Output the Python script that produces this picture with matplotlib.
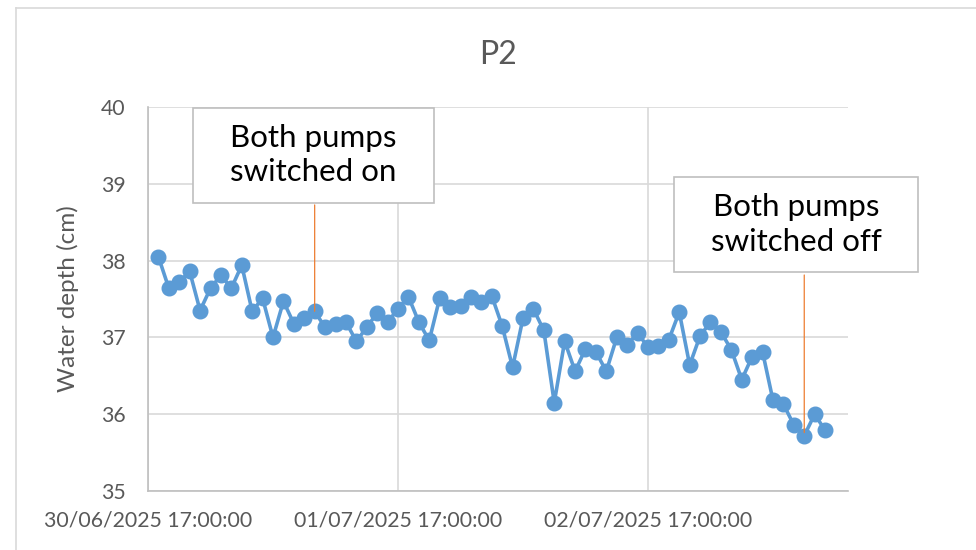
import numpy as np
import pandas as pd
import matplotlib
matplotlib.use("Agg")
import matplotlib.pyplot as plt
import matplotlib.dates as mdates
from matplotlib.patches import Rectangle
from matplotlib.lines import Line2D


#%%

# Hourly readings, P2
start_time = "2025-06-30 18:00:00"
depth_cm = [38.05, 37.64, 37.72, 37.86, 37.35, 37.64, 37.81, 37.64, 37.94, 37.34,
            37.51, 37.00, 37.47, 37.18, 37.25, 37.34, 37.13, 37.18, 37.20, 36.95,
            37.13, 37.32, 37.20, 37.37, 37.53, 37.20, 36.96, 37.51, 37.39, 37.41,
            37.53, 37.46, 37.54, 37.15, 36.61, 37.25, 37.37, 37.09, 36.15, 36.95,
            36.56, 36.85, 36.81, 36.56, 37.00, 36.90, 37.06, 36.87, 36.89, 36.97,
            37.33, 36.64, 37.02, 37.20, 37.07, 36.84, 36.45, 36.75, 36.81, 36.18,
            36.13, 35.86, 35.72, 36.00, 35.79]

times = pd.date_range(start_time, periods=len(depth_cm), freq="h")

tick_times = pd.to_datetime(["2025-06-30 17:00:00", "2025-07-01 17:00:00", "2025-07-02 17:00:00"])
y_ticks = [35, 36, 37, 38, 39, 40]

# pumps on / off markers
pumps_on_idx = 15
pumps_off_idx = 62
note_on = "Both pumps\nswitched on"
note_off = "Both pumps\nswitched off"


#%%

blue = "#5B9BD5"
orange = "#ED7D31"
grey_txt = "#595959"
grid_col = "#D9D9D9"

plt.rcParams['font.family'] = ['Lato', 'DejaVu Sans']

fig = plt.figure(figsize=(9.76, 5.5), dpi=100)
ax = fig.add_axes([148/976, 1 - 491/550, 700/976, 384/550])

ax.plot(times, depth_cm, color=blue, lw=2.6, marker="o", ms=10.5, zorder=3)

ax.set_ylim(35, 40)
ax.set_yticks(y_ticks)
x0 = tick_times[0]
ax.set_xlim(x0, x0 + pd.Timedelta(hours=67.2))
ax.set_xticks(tick_times)
ax.xaxis.set_major_formatter(mdates.DateFormatter("%d/%m/%Y %H:%M:%S"))

ax.grid(True, color=grid_col, lw=1.2)
ax.set_axisbelow(True)
for s in ["top", "right"]:
    ax.spines[s].set_visible(False)
for s in ["left", "bottom"]:
    ax.spines[s].set_color("#BFBFBF")
    ax.spines[s].set_linewidth(1.2)
ax.tick_params(length=0, labelsize=15.3, labelcolor=grey_txt)
ax.tick_params(axis="y", pad=16)
ax.tick_params(axis="x", pad=14)

ax.set_ylabel("Water depth (cm)", fontsize=17.5, color=grey_txt, labelpad=16)
ax.set_title("P2", fontsize=23, color=grey_txt, pad=31)


#%%

# annotation leader lines
ax.annotate("", xy=(times[pumps_on_idx], depth_cm[pumps_on_idx]),
            xytext=(times[pumps_on_idx], 0.745), textcoords=("data", "axes fraction"),
            arrowprops=dict(arrowstyle="-", color=orange, lw=0.9, shrinkA=0, shrinkB=0))
ax.annotate("", xy=(times[pumps_off_idx], depth_cm[pumps_off_idx] + 0.04),
            xytext=(times[pumps_off_idx], 0.5625), textcoords=("data", "axes fraction"),
            arrowprops=dict(arrowstyle="-", color=orange, lw=0.9, shrinkA=0, shrinkB=0))

# text boxes
def note_box(x0, y0, w, h, txt):
    fig.patches.append(Rectangle((x0, y0), w, h, transform=fig.transFigure,
                                 facecolor="white", edgecolor="#BFBFBF", lw=1.2, zorder=5))
    fig.text(x0 + w/2, y0 + h/2, txt, ha="center", va="center", fontsize=22.5,
             color="black", linespacing=1.3, zorder=6)

note_box(193/976, 1 - 202.5/550, 241/976, 95/550, note_on)
note_box(674/976, 1 - 272/550, 244/976, 95/550, note_off)

# chart border
fig.add_artist(Line2D([15.5/976, 15.5/976], [0, 1 - 7.5/550], color=grid_col, lw=1.2))
fig.add_artist(Line2D([15.5/976, 1], [1 - 7.5/550, 1 - 7.5/550], color=grid_col, lw=1.2))

plt.savefig("out.png", dpi=100)
